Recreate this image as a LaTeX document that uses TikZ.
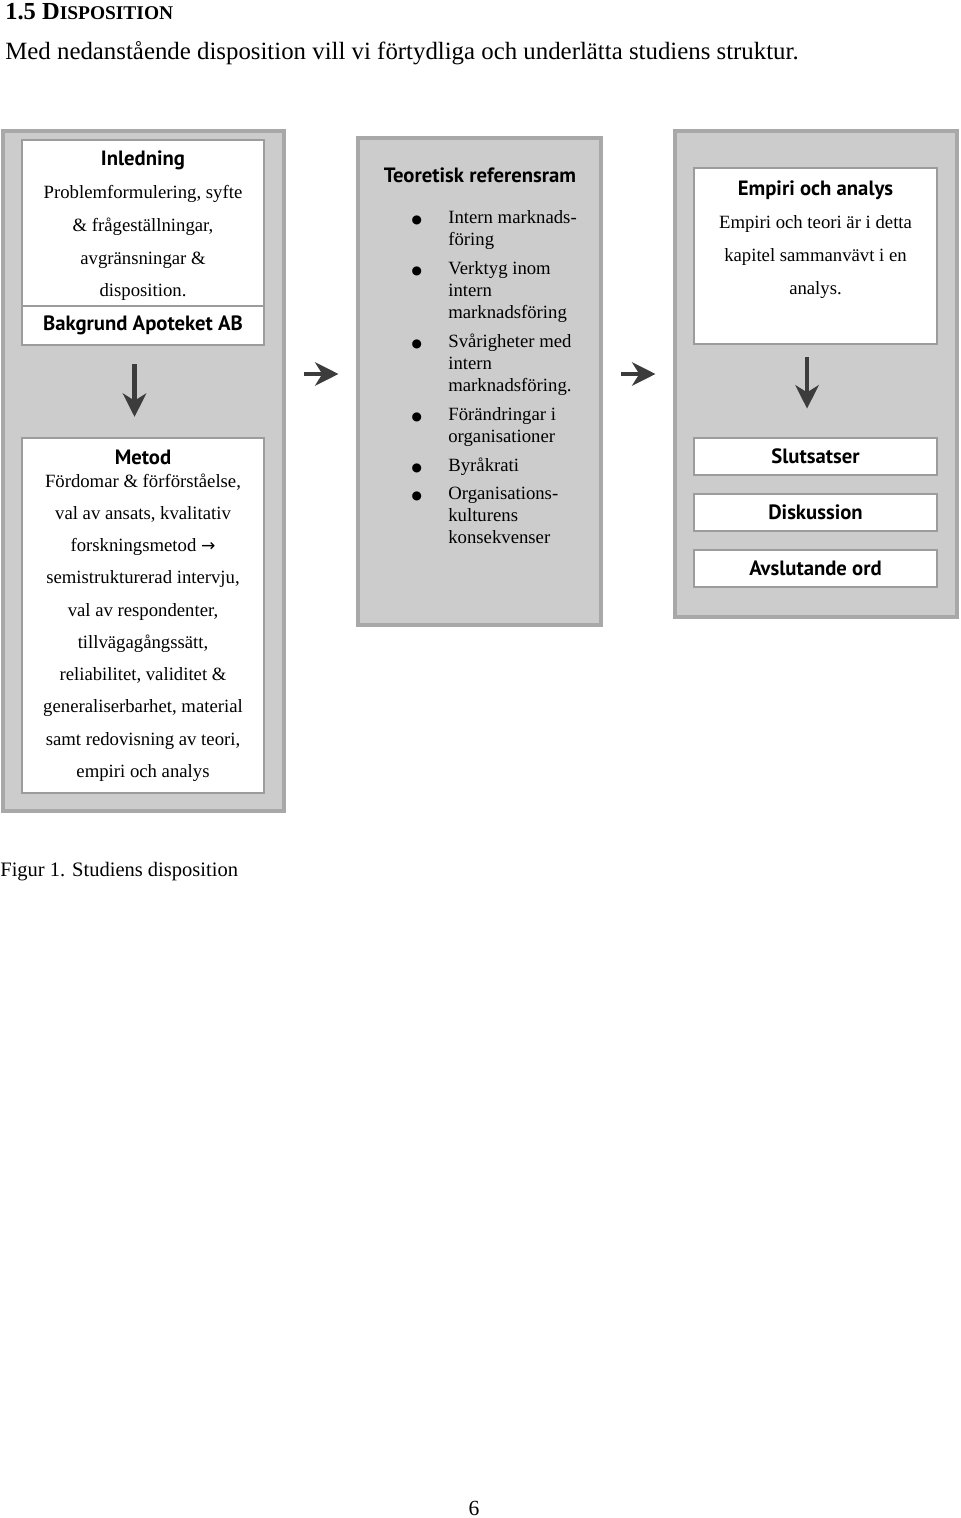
\documentclass[tikz,border=0pt]{standalone}
\usepackage{fontspec}
\setmainfont{Liberation Serif}
\setsansfont{PT Sans}
\newfontfamily\symfont{DejaVu Sans}
\usepackage{xcolor}
\usetikzlibrary{
  arrows.meta,
  positioning,
  fit
}
\definecolor{panelfill}{HTML}{CCCCCC}
\definecolor{paneldraw}{HTML}{A8A8A8}
\definecolor{boxdraw}{HTML}{9C9C9C}
\definecolor{arrowink}{HTML}{3C3C3C}
\newcommand{\boxhead}[1]{{\sffamily\bfseries\fontsize{11.5}{12}\selectfont #1}}
\newcommand{\bul}{\llap{{\symfont\fontsize{6.6}{8}\selectfont ●}\hspace{14.6pt}}}
\newcommand{\pil}{{\symfont\fontsize{9.5}{10}\selectfont →}}
\tikzset{
  panel/.style={
    fill=panelfill,
    draw=paneldraw,
    line width=1.7pt,
    inner sep=0pt
  },
  whitebox/.style={
    fill=white,
    draw=boxdraw,
    line width=1.5pt,
    inner sep=0pt
  },
  boxtext/.style={inner sep=0pt, align=center, font=\fontsize{10.4}{18.2}\selectfont},
  headtext/.style={inner sep=0pt, font=\sffamily\bfseries\fontsize{11.5}{12}\selectfont},
  arr/.style={-{Stealth[length=13pt,width=13pt,inset=4pt]}, line width=2.4pt, draw=arrowink},
  pagetext/.style={font=\fontsize{13.8}{16}\selectfont, inner sep=0pt},
}

\begin{document}
\begin{tikzpicture}[x=0.5556pt, y=-0.5556pt]
  \useasboundingbox (0,0) rectangle (960,1518);

  % =====================================================================
  % Page text
  % =====================================================================
  \node[pagetext, anchor=base west, font=\bfseries\fontsize{13.6}{16}\selectfont]
    (rubrik) at (5,20) {1.5 D{\fontsize{10.8}{12}\selectfont ISPOSITION}};
  \node[pagetext, anchor=base west] (ingress) at (5,60)
    {Med nedanstående disposition vill vi förtydliga och underlätta studiens struktur.};

  % =====================================================================
  % LEFT PANEL
  % =====================================================================
  \node[panel, fit={(3,131) (284,811)}] (Lpan) {};

  \node[whitebox, fit={(22,140) (264,306)}] (Linl) {};
  \node[boxtext] (Linltext) at ([yshift=-1.7pt]Linl.center) {%
    \boxhead{Inledning}\\
    Problemformulering, syfte\\
    \& frågeställningar,\\
    avgränsningar \&\\
    disposition.};

  \node[whitebox, fit={(22,306) (264,345)}] (Lbak) {};
  \node[headtext] (Lbaktext) at (Lbak.center) {Bakgrund Apoteket AB};

  \node[whitebox, fit={(22,438) (264,793)}] (Lmet) {};
  \node[boxtext, font=\fontsize{10.4}{17.9}\selectfont] (Lmettext) at (Lmet.center) {%
    \boxhead{Metod}\\[-5.1pt]
    Fördomar \& förförståelse,\\
    val av ansats, kvalitativ\\
    forskningsmetod \pil\\
    semistrukturerad intervju,\\
    val av respondenter,\\
    tillvägagångssätt,\\
    reliabilitet, validitet \&\\
    generaliserbarhet, material\\
    samt redovisning av teori,\\
    empiri och analys};

  \draw[arr, shorten <=10pt, shorten >=11pt]
    ([xshift=-4.7pt]Lbak.south) -- ([xshift=-4.7pt]Lmet.north);

  % =====================================================================
  % MIDDLE PANEL
  % =====================================================================
  \node[panel, fit={(358,138) (601,625)}] (Mpan) {};
  \node[headtext, anchor=base] (Mrub) at (480,183) {Teoretisk referensram};
  \node[anchor=north west, inner sep=0pt, align=left, font=\fontsize{10.4}{12.2}\selectfont]
    (Mlista) at (448,210) {%
    \bul Intern marknads-\\ föring\\[3.9pt]
    \bul Verktyg inom\\ intern\\ marknadsföring\\[3.9pt]
    \bul Svårigheter med\\ intern\\ marknadsföring.\\[3.9pt]
    \bul Förändringar i\\ organisationer\\[3.9pt]
    \bul Byråkrati\\[3.9pt]
    \bul Organisations-\\ kulturens\\ konsekvenser};

  % =====================================================================
  % RIGHT PANEL
  % =====================================================================
  \node[panel, fit={(675,131) (957,617)}] (Rpan) {};

  \node[whitebox, fit={(694,168) (937,344)}] (Remp) {};
  \node[boxtext, font=\fontsize{10.4}{18.3}\selectfont] (Remptext) at (815.5,240) {%
    \boxhead{Empiri och analys}\\
    Empiri och teori är i detta\\
    kapitel sammanvävt i en\\
    analys.};

  \node[whitebox, fit={(694,438) (937,475)}] (Rslut) {};
  \node[headtext] (Rsluttext) at (Rslut.center) {Slutsatser};
  \node[whitebox, fit={(694,494) (937,531)}] (Rdisk) {};
  \node[headtext] (Rdisktext) at (Rdisk.center) {Diskussion};
  \node[whitebox, fit={(694,550) (937,587)}] (Ravs) {};
  \node[headtext] (Ravstext) at (Ravs.center) {Avslutande ord};

  \draw[arr, shorten <=6.7pt, shorten >=15.6pt]
    ([xshift=-4.7pt]Remp.south) -- ([xshift=-4.7pt]Rslut.north);

  % Arrows between the panels
  \coordinate (pilrad) at (0,374);
  \draw[arr, shorten <=10pt, shorten >=10pt]
    (Lpan.east |- pilrad) -- (Mpan.west |- pilrad);
  \draw[arr, shorten <=10.5pt, shorten >=10pt]
    (Mpan.east |- pilrad) -- (Rpan.west |- pilrad);

  % =====================================================================
  % Caption and page number
  % =====================================================================
  \node[pagetext, anchor=base west, font=\fontsize{11.4}{14}\selectfont]
    (figtext) at (0,876) {Figur 1. Studiens disposition};
  \node[pagetext, anchor=base, font=\fontsize{12}{14}\selectfont] (sidnr) at (474,1515) {6};

\end{tikzpicture}
\end{document}
